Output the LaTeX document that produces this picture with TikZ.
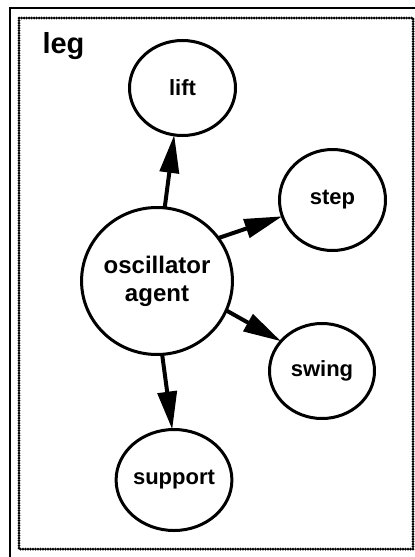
\documentclass[tikz,border=0pt]{standalone}
\usepackage{fontspec}
\setmainfont{Liberation Sans}
\usetikzlibrary{arrows.meta,shapes.geometric}
\begin{document}
\begin{tikzpicture}[x=1pt,y=-1pt,
  agent/.style={ellipse, draw, line width=3pt, inner sep=0pt, outer sep=0pt,
    align=center, font=\bfseries\fontsize{22}{26}\selectfont},
  link/.style={line width=4pt, -{Triangle[length=38pt,width=19pt]}},
  frame/.style={line width=2pt},
  beads/.style={line width=3pt, dash pattern=on 0pt off 2.5pt, line cap=round}]
\useasboundingbox (0,0) rectangle (415,557);
\fill[white] (0,0) rectangle (415,557);
\draw[frame] (415,8) -- (10,8) -- (10,557);
\draw[beads] (19,18) rectangle (413,549);
\node[anchor=base west, font=\bfseries\fontsize{29}{34}\selectfont] (leg) at (39,53) {leg};
\node[agent, minimum width=106pt, minimum height=95pt] (lift) at (182.5,88) {lift};
\node[agent, minimum width=106pt, minimum height=101pt] (step) at (332.5,200) {step};
\node[agent, minimum width=149pt, minimum height=147pt,
  font=\bfseries\fontsize{24}{28}\selectfont] (osc) at (157,281) {oscillator\\agent};
\node[agent, minimum width=105pt, minimum height=95pt] (swing) at (322,371) {swing};
\node[agent, minimum width=107pt, minimum height=101pt] (support) at (174,480) {support};
\draw[link] (osc.84) -- (lift.260);
\draw[link] (osc.35) -- (step.198);
\draw[link] (osc.-23) -- (swing.144);
\draw[link] (osc.274) -- (support.92);
\end{tikzpicture}
\end{document}
